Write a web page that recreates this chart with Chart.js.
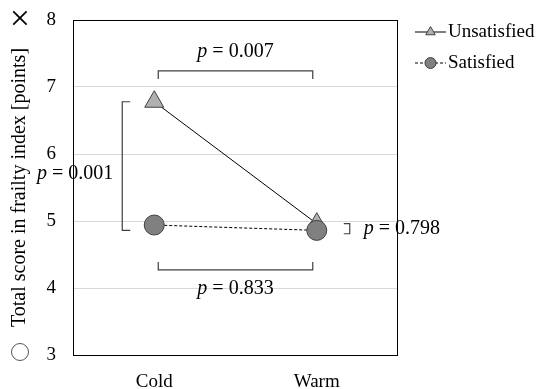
<!DOCTYPE html>
<html>
<head>
<meta charset="utf-8">
<script src="https://cdn.jsdelivr.net/npm/chart.js@4.4.0/dist/chart.umd.min.js"></script>
<style>
html, body { margin: 0; padding: 0; background: #fff; }
#wrap { width: 545px; height: 389px; }
</style>
</head>
<body>
<div id="wrap"><canvas id="frailty-chart"></canvas></div>
<script>
// data
const seasons = ["Cold", "Warm"];
const unsatisfied = [6.78, 4.96];
const satisfied = [4.94, 4.86];
const yMin = 3;
const yMax = 8;
const pBetweenUnsat = "0.007"; // cold vs warm, unsatisfied
const pBetweenSat = "0.833";   // cold vs warm, satisfied
const pCold = "0.001";         // unsatisfied vs satisfied, cold
const pWarm = "0.798";         // unsatisfied vs satisfied, warm

const serif = "'Liberation Serif', 'DejaVu Serif', serif";
const canvas = document.getElementById("frailty-chart");

// draws p = ... with italic p
function pText(ctx, x, y, value, align) {
    ctx.save();
    ctx.textBaseline = "middle";
    ctx.fillStyle = "#000";
    const italic = "italic 20px " + serif;
    const normal = "20px " + serif;
    ctx.font = italic;
    const wp = ctx.measureText("p").width;
    ctx.font = normal;
    const rest = " = " + value;
    const wr = ctx.measureText(rest).width;
    let start = x;
    if (align === "center") start = x - (wp + wr) / 2;
    ctx.textAlign = "left";
    ctx.font = italic;
    ctx.fillText("p", start, y);
    ctx.font = normal;
    ctx.fillText(rest, start + wp, y);
    ctx.restore();
}

const extras = {
    id: "extras",
    beforeDatasetsDraw(chart) {
        const ctx = chart.ctx;
        const x = chart.scales.x;
        const y = chart.scales.y;
        const xc = x.getPixelForValue(0);
        const xw = x.getPixelForValue(1);

        ctx.save();
        ctx.strokeStyle = "#404040";
        ctx.lineWidth = 1.2;

        // top bracket (unsatisfied cold vs warm)
        let by = y.getPixelForValue(7.24);
        ctx.beginPath();
        ctx.moveTo(xc + 4, by + 8);
        ctx.lineTo(xc + 4, by);
        ctx.lineTo(xw - 4, by);
        ctx.lineTo(xw - 4, by + 8);
        ctx.stroke();
        pText(ctx, (xc + xw) / 2, by - 19, pBetweenUnsat, "center");

        // bottom bracket (satisfied cold vs warm)
        by = y.getPixelForValue(4.27);
        ctx.beginPath();
        ctx.moveTo(xc + 4, by - 8);
        ctx.lineTo(xc + 4, by);
        ctx.lineTo(xw - 4, by);
        ctx.lineTo(xw - 4, by - 8);
        ctx.stroke();

        // left bracket (cold)
        const lx = xc - 32;
        ctx.beginPath();
        ctx.moveTo(lx + 8, y.getPixelForValue(unsatisfied[0]));
        ctx.lineTo(lx, y.getPixelForValue(unsatisfied[0]));
        ctx.lineTo(lx, y.getPixelForValue(4.86));
        ctx.lineTo(lx + 8, y.getPixelForValue(4.86));
        ctx.stroke();

        // right bracket (warm)
        const rx = xw + 33;
        ctx.beginPath();
        ctx.moveTo(rx - 6, y.getPixelForValue(4.96));
        ctx.lineTo(rx, y.getPixelForValue(4.96));
        ctx.lineTo(rx, y.getPixelForValue(4.81));
        ctx.lineTo(rx - 6, y.getPixelForValue(4.81));
        ctx.stroke();
        ctx.restore();

        pText(ctx, (xc + xw) / 2, y.getPixelForValue(4.27) + 19, pBetweenSat, "center");
        pText(ctx, 37, y.getPixelForValue(5.7), pCold, "left");
        pText(ctx, rx + 14, y.getPixelForValue(4.88), pWarm, "left");

        // plot frame
        const a = chart.chartArea;
        ctx.save();
        ctx.strokeStyle = "#000";
        ctx.lineWidth = 1;
        ctx.strokeRect(a.left + 0.5, a.top + 0.5, a.right - a.left - 1, a.bottom - a.top);
        ctx.restore();
    },
    afterDraw(chart) {
        const ctx = chart.ctx;
        const a = chart.chartArea;
        ctx.save();
        // y title
        ctx.translate(20, (a.top + a.bottom) / 2);
        ctx.rotate(-Math.PI / 2);
        ctx.font = "20px " + serif;
        ctx.fillStyle = "#000";
        ctx.textAlign = "center";
        ctx.textBaseline = "middle";
        ctx.fillText("Total score in frailty index [points]", 0, 0);
        ctx.restore();

        ctx.save();
        ctx.fillStyle = "#000";
        ctx.textAlign = "center";
        ctx.textBaseline = "middle";
        ctx.font = "36px " + serif;
        ctx.fillText("×", 20, 21);
        ctx.strokeStyle = "#555";
        ctx.lineWidth = 1;
        ctx.beginPath();
        ctx.arc(20, 352, 8.5, 0, Math.PI * 2);
        ctx.stroke();
        ctx.restore();

        // legend
        const rows = [
            { label: "Unsatisfied", y: 32, dash: [], style: "triangle", fill: "#b0b0b0" },
            { label: "Satisfied", y: 63, dash: [3, 2], style: "circle", fill: "#808080" }
        ];
        rows.forEach(r => {
            ctx.save();
            ctx.strokeStyle = "#000";
            ctx.lineWidth = 1;
            ctx.setLineDash(r.dash);
            ctx.beginPath();
            ctx.moveTo(415, r.y);
            ctx.lineTo(446, r.y);
            ctx.stroke();
            ctx.setLineDash([]);
            ctx.fillStyle = r.fill;
            ctx.strokeStyle = "#404040";
            Chart.helpers.drawPoint(ctx, { pointStyle: r.style, radius: 5.5, borderWidth: 1 }, 430.5, r.y);
            ctx.restore();
            ctx.save();
            ctx.font = "19px " + serif;
            ctx.fillStyle = "#000";
            ctx.textAlign = "left";
            ctx.textBaseline = "middle";
            ctx.fillText(r.label, 448, r.y);
            ctx.restore();
        });
    }
};

const chartData = {
    labels: seasons,
    datasets: [{
        label: "Unsatisfied",
        data: unsatisfied,
        borderColor: "#000",
        borderWidth: 1,
        pointStyle: "triangle",
        pointRadius: 11,
        pointBackgroundColor: "#b0b0b0",
        pointBorderColor: "#404040",
        pointBorderWidth: 1,
        order: 1
    }, {
        label: "Satisfied",
        data: satisfied,
        borderColor: "#000",
        borderWidth: 1,
        borderDash: [3, 2],
        pointStyle: "circle",
        pointRadius: 10,
        pointBackgroundColor: "#808080",
        pointBorderColor: "#404040",
        pointBorderWidth: 1,
        order: 0
    }]
};

const chartOptions = {
    responsive: true,
    maintainAspectRatio: false,
    animation: false,
    layout: {
        padding: { top: 20, right: 147, left: 0, bottom: 0 }
    },
    scales: {
        x: {
            offset: true,
            grid: { display: false, drawTicks: false },
            border: { display: false },
            ticks: { color: "#000", font: { family: serif, size: 19 }, padding: 16 },
            afterFit: scale => {
                scale.height = 34;
                scale.paddingLeft = 0;
                scale.paddingRight = 0;
            }
        },
        y: {
            min: yMin,
            max: yMax,
            grid: { color: "#d9d9d9", drawTicks: false },
            border: { display: false },
            ticks: { stepSize: 1, color: "#000", font: { family: serif, size: 19 }, padding: 17 },
            afterFit: scale => {
                scale.width = 73;
                scale.paddingTop = 0;
                scale.paddingBottom = 0;
            }
        }
    },
    plugins: {
        legend: { display: false },
        tooltip: { enabled: false }
    }
};

let frailtyChart = new Chart(canvas, {
    type: "line",
    data: chartData,
    options: chartOptions,
    plugins: [extras]
});
</script>
</body>
</html>
